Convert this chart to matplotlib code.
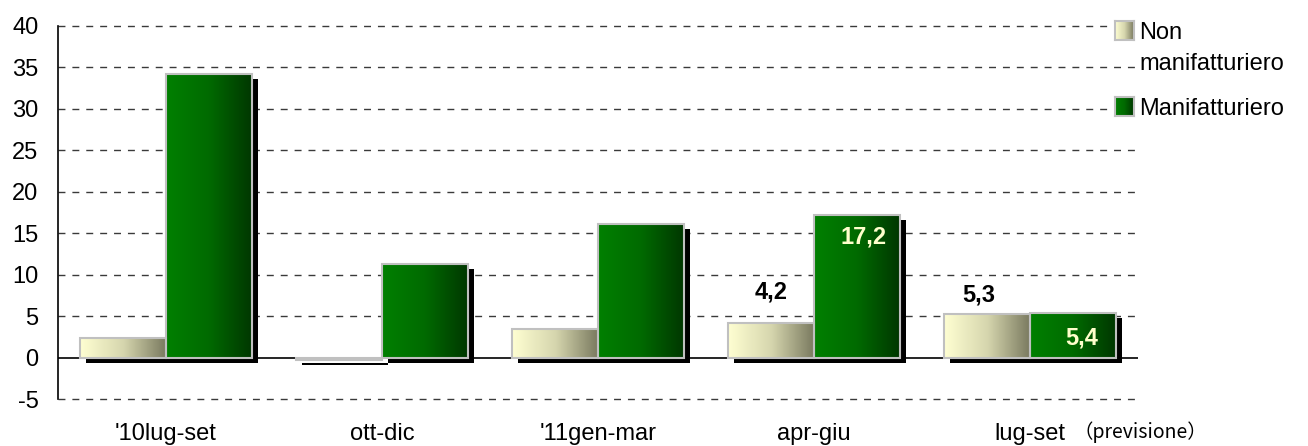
import numpy as np
import matplotlib
matplotlib.use("Agg")
from matplotlib import pyplot as plt
from matplotlib.colors import LinearSegmentedColormap
from matplotlib.transforms import ScaledTranslation

plt.rcParams["font.family"] = ["Liberation Sans", "DejaVu Sans"]
plt.rcParams["axes.unicode_minus"] = False

categories = ["'10lug-set", "ott-dic", "'11gen-mar", "apr-giu", "lug-set"]
non_manif = [2.3, -0.3, 3.4, 4.2, 5.3]
manif = [34.2, 11.3, 16.1, 17.2, 5.4]
series_names = ["Non\nmanifatturiero", "Manifatturiero"]
yticks = [-5, 0, 5, 10, 15, 20, 25, 30, 35, 40]

cmap_non = LinearSegmentedColormap.from_list("non", ["#ffffd2", "#d6d6ae", "#78785e"])
cmap_man = LinearSegmentedColormap.from_list("man", ["#008000", "#006a00", "#003600"])
grad = np.linspace(0, 1, 256).reshape(1, -1)

fig = plt.figure(figsize=(13.08, 4.46), dpi=100)
ax = fig.add_axes([58 / 1308, 1 - 399 / 446, 1080 / 1308, 373 / 446])

x = np.arange(len(categories))
w = 0.4

# shadows first, shifted right/down a few pixels
shadow = ax.transData + ScaledTranslation(0.06, -0.05, fig.dpi_scale_trans)
for off, vals in [(-w / 2, non_manif), (w / 2, manif)]:
    ax.bar(x + off, vals, w, color="black", transform=shadow, zorder=2)

for off, vals, cmap in [(-w / 2, non_manif, cmap_non), (w / 2, manif, cmap_man)]:
    bars = ax.bar(x + off, vals, w, facecolor="none", edgecolor="#c0c0c0",
                  linewidth=1.5, zorder=4)
    for b, v in zip(bars, vals):
        x0 = b.get_x()
        im = ax.imshow(grad, cmap=cmap, aspect="auto", zorder=3,
                       extent=[x0, x0 + w, min(0, v), max(0, v)])
        im.set_clip_path(b)

ax.set_xlim(-0.5, len(categories) - 0.5)
ax.set_ylim(-5, 40)
ax.set_yticks(yticks)
ax.tick_params(axis="y", labelsize=17, length=0, pad=14)
ax.set_xticks(x)
ax.set_xticklabels(categories, fontsize=17)
ax.tick_params(axis="x", length=0, pad=17)
for s in ["top", "right", "bottom"]:
    ax.spines[s].set_visible(False)
ax.spines["left"].set_linewidth(1.2)

for yv in yticks:
    if yv != 0:
        ax.axhline(yv, color="#3a3a3a", lw=1.0, dashes=(5, 5), zorder=1, clip_on=False)
ax.axhline(0, color="black", lw=1.2, zorder=1)

ax.text(4.2, -9.0, "（previsione）", fontsize=14, ha="left", va="center",
        family=["Noto Sans CJK JP", "DejaVu Sans"])

# value labels
ax.text(3 - w / 2, 7.9, "4,2", fontsize=17, fontweight="bold", ha="center", va="center")
ax.text(3 + w / 2 + 0.03, 14.5, "17,2", fontsize=17, fontweight="bold", color="#ffffcc",
        ha="center", va="center")
ax.text(4 - w / 2 - 0.035, 7.6, "5,3", fontsize=17, fontweight="bold", ha="center", va="center")
ax.text(4 + w / 2 + 0.04, 2.3, "5,4", fontsize=17, fontweight="bold", color="#ffffcc",
        ha="center", va="center")

# legend drawn by hand (gradient markers)
for (ytop, name, cmap) in [(21, series_names[0], cmap_non), (97, series_names[1], cmap_man)]:
    lax = fig.add_axes([1115 / 1308, 1 - (ytop + 19) / 446, 19 / 1308, 19 / 446])
    lax.imshow(grad, cmap=cmap, aspect="auto")
    lax.set_xticks([])
    lax.set_yticks([])
    for sp in lax.spines.values():
        sp.set_color("#c0c0c0")
        sp.set_linewidth(1.5)
    for i, line in enumerate(name.split("\n")):
        fig.text(1139 / 1308, 1 - (ytop + 18 + 31 * i) / 446, line, fontsize=17,
                 va="baseline", ha="left",
                 bbox=dict(facecolor="white", edgecolor="none", pad=1))

fig.savefig("out.png", dpi=100)
